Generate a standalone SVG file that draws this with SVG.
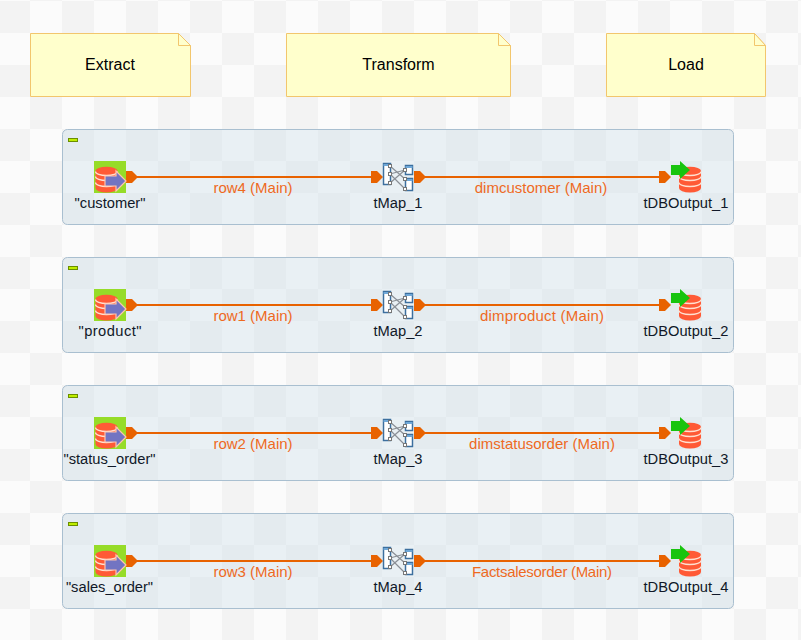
<svg xmlns="http://www.w3.org/2000/svg" xmlns:xlink="http://www.w3.org/1999/xlink" width="801" height="640" viewBox="0 0 801 640">
<style>
text{font-family:"Liberation Sans",Arial,sans-serif;text-anchor:middle}
.note{fill:#ffffcc;stroke:#f2c66d;stroke-width:1}
.fold{fill:#ffffcc;stroke:#f2c66d;stroke-width:1}
.nt{font-size:16px;fill:#000}
.sub{fill:#d2e2ea;fill-opacity:.45;stroke:#a9bfd0;stroke-width:1}
.min{fill:#bfee00;stroke:#6b8e00;stroke-width:1}
.lbl{font-size:14.7px;fill:#101828}
.cl{font-size:15px;fill:#ee6a1f}
.wire{stroke:#e86200;stroke-width:2;fill:none}
.port{fill:#e86200}
</style>
<defs>
<pattern id="chk" width="64" height="64" patternUnits="userSpaceOnUse" x="-2" y="1">
<rect width="64" height="64" fill="#fbfbfb"/>
<rect width="32" height="32" fill="#f3f3f3"/>
<rect x="32" y="32" width="32" height="32" fill="#f3f3f3"/>
</pattern>
<g id="db">
<path d="M-11,-9 v17 a11,4.500 0 0 0 22,0 v-17z" fill="#ff5a36"/>
<ellipse cx="0" cy="-9" rx="11" ry="4.200" fill="#ff5a36"/>
<path d="M-11,-3.500 a11,4 0 0 0 22,0 M-11,2.500 a11,4 0 0 0 22,0 M-11,-8.500 a11,4 0 0 0 22,0" fill="none" stroke="#ffe0d0" stroke-width="1.300"/>
</g>
<g id="input">
<rect x="-16" y="-16" width="32" height="32" fill="#96dc28"/>
<use xlink:href="#db" x="-3.500" y="3"/>
<path d="M-5,-1 h11 v-5 l10,10 l-10,10 v-5 h-11z" fill="#7274c2" stroke="#ffc4ae" stroke-width="1.200"/>
</g>
<g id="map">
<rect x="-14.500" y="-11.500" width="7" height="21" fill="#fff" stroke="#3d6f9e" stroke-width="1.500"/>
<rect x="7.500" y="-9.500" width="7" height="9" fill="#fff" stroke="#3d6f9e" stroke-width="1.500"/>
<rect x="7.500" y="3.500" width="7" height="12" fill="#fff" stroke="#3d6f9e" stroke-width="1.500"/>
<path d="M-14.500,-10 h7 M7.500,-8 h7 M7.500,5 h7" stroke="#6fa8d8" stroke-width="2.200"/>
<path d="M-8,-9 L7,4 M-8,-1 L7,-5 M-8,8 L7,-5 M-8,-1 L7,14" stroke="#8a8f96" stroke-width="1.200" fill="none"/>
<rect x="-9.500" y="-10.500" width="3" height="3" fill="#fff" stroke="#777"/>
<rect x="-9.500" y="-2.500" width="3" height="3" fill="#fff" stroke="#777"/>
<rect x="-9.500" y="6.500" width="3" height="3" fill="#fff" stroke="#777"/>
<rect x="5.500" y="-6.500" width="3" height="3" fill="#fff" stroke="#777"/>
<rect x="5.500" y="2.500" width="3" height="3" fill="#fff" stroke="#777"/>
<rect x="5.500" y="12.500" width="3" height="3" fill="#fff" stroke="#777"/>
</g>
<g id="output">
<use xlink:href="#db" x="7" y="3"/>
<path d="M-12,-12 h9 v-4 l10,9 l-10,9 v-4 h-9z" fill="#18c40e"/>
</g>
<path id="port" d="M0,-6 h6 l6,6 l-6,6 h-6z"/>
</defs>
<rect id="canvas" width="801" height="640" fill="url(#chk)"/>
<g id="note-extract"><path class="note" d="M30.500,33.500 H178.500 L190.500,45.500 V96.500 H30.500Z"/><path class="fold" d="M178.500,33.500 V45.500 H190.500Z"/><text class="nt" x="110" y="70">Extract</text></g>
<g id="note-transform"><path class="note" d="M286.500,33.500 H498.500 L510.500,45.500 V96.500 H286.500Z"/><path class="fold" d="M498.500,33.500 V45.500 H510.500Z"/><text class="nt" x="398.500" y="70">Transform</text></g>
<g id="note-load"><path class="note" d="M606.500,33.500 H754.500 L765.500,45.500 V96.500 H606.500Z"/><path class="fold" d="M754.500,33.500 V45.500 H765.500Z"/><text class="nt" x="686" y="70">Load</text></g>

<g id="subjobs">
<rect class="sub" x="62.500" y="129.500" width="671" height="95" rx="5"/>
<rect class="min" x="68.500" y="138.500" width="9" height="3"/>
<rect class="sub" x="62.500" y="257.500" width="671" height="95" rx="5"/>
<rect class="min" x="68.500" y="266.500" width="9" height="3"/>
<rect class="sub" x="62.500" y="385.500" width="671" height="95" rx="5"/>
<rect class="min" x="68.500" y="394.500" width="9" height="3"/>
<rect class="sub" x="62.500" y="513.500" width="671" height="95" rx="5"/>
<rect class="min" x="68.500" y="522.500" width="9" height="3"/>
</g>

<g id="connectors">
<g><path class="wire" d="M132,177 H375 M420,177 H663"/><use class="port" xlink:href="#port" x="126" y="177"/><use class="port" xlink:href="#port" x="371" y="177"/><use class="port" xlink:href="#port" x="414" y="177"/><use class="port" xlink:href="#port" x="659" y="177"/><text class="cl" x="253" y="193">row4 (Main)</text><text class="cl" x="541" y="193">dimcustomer (Main)</text></g>
<g><path class="wire" d="M132,305 H375 M420,305 H663"/><use class="port" xlink:href="#port" x="126" y="305"/><use class="port" xlink:href="#port" x="371" y="305"/><use class="port" xlink:href="#port" x="414" y="305"/><use class="port" xlink:href="#port" x="659" y="305"/><text class="cl" x="253" y="321">row1 (Main)</text><text class="cl" x="542" y="321" textLength="124">dimproduct (Main)</text></g>
<g><path class="wire" d="M132,433 H375 M420,433 H663"/><use class="port" xlink:href="#port" x="126" y="433"/><use class="port" xlink:href="#port" x="371" y="433"/><use class="port" xlink:href="#port" x="414" y="433"/><use class="port" xlink:href="#port" x="659" y="433"/><text class="cl" x="253" y="449">row2 (Main)</text><text class="cl" x="542" y="449">dimstatusorder (Main)</text></g>
<g><path class="wire" d="M132,561 H375 M420,561 H663"/><use class="port" xlink:href="#port" x="126" y="561"/><use class="port" xlink:href="#port" x="371" y="561"/><use class="port" xlink:href="#port" x="414" y="561"/><use class="port" xlink:href="#port" x="659" y="561"/><text class="cl" x="253" y="577">row3 (Main)</text><text class="cl" x="542" y="577" textLength="140">Factsalesorder (Main)</text></g>
</g>

<g id="customer"><use xlink:href="#input" x="110" y="177"/><text class="lbl" x="110" y="208">"customer"</text></g>
<g id="tMap_1"><use xlink:href="#map" x="398" y="175"/><text class="lbl" x="398" y="208">tMap_1</text></g>
<g id="tDBOutput_1"><use xlink:href="#output" x="683" y="177"/><text class="lbl" x="686" y="208">tDBOutput_1</text></g>

<g id="product"><use xlink:href="#input" x="110" y="305"/><text class="lbl" x="110" y="336" textLength="63">"product"</text></g>
<g id="tMap_2"><use xlink:href="#map" x="398" y="303"/><text class="lbl" x="398" y="336">tMap_2</text></g>
<g id="tDBOutput_2"><use xlink:href="#output" x="683" y="305"/><text class="lbl" x="686" y="336">tDBOutput_2</text></g>

<g id="status_order"><use xlink:href="#input" x="110" y="433"/><text class="lbl" x="109.500" y="464">"status_order"</text></g>
<g id="tMap_3"><use xlink:href="#map" x="398" y="431"/><text class="lbl" x="398" y="464">tMap_3</text></g>
<g id="tDBOutput_3"><use xlink:href="#output" x="683" y="433"/><text class="lbl" x="686" y="464">tDBOutput_3</text></g>

<g id="sales_order"><use xlink:href="#input" x="110" y="561"/><text class="lbl" x="109.500" y="592">"sales_order"</text></g>
<g id="tMap_4"><use xlink:href="#map" x="398" y="559"/><text class="lbl" x="398" y="592">tMap_4</text></g>
<g id="tDBOutput_4"><use xlink:href="#output" x="683" y="561"/><text class="lbl" x="686" y="592">tDBOutput_4</text></g>
</svg>
